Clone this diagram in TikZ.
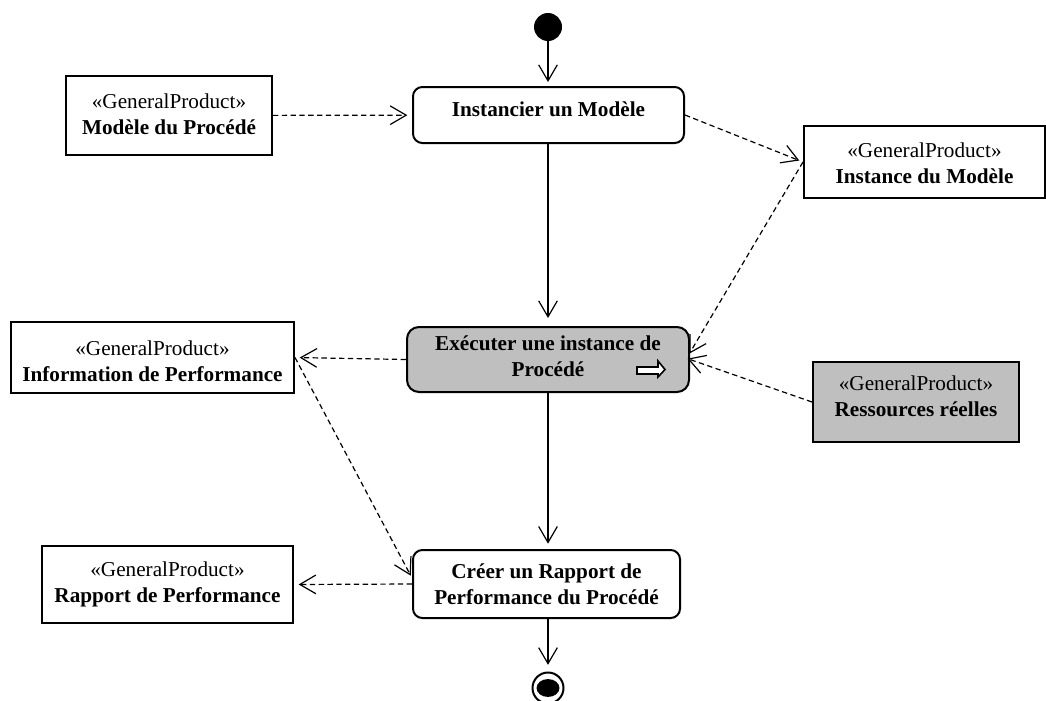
\documentclass[tikz,border=0pt]{standalone}
\usepackage{fontspec}
\setmainfont{Liberation Serif}
\usetikzlibrary{arrows.meta,calc,fit}

% one unit = one pixel of a 1046 x 700 canvas, y grows downwards
\tikzset{
  x=0.75pt, y=-0.75pt,
  conn/.style={line width=0.9pt,
    -{Straight Barb[length=12pt,width=14pt,line width=0.9pt]}},
  dep/.style={conn, dash pattern=on 4pt off 2.6pt},
  objbox/.style={draw, line width=1.5pt, inner sep=0pt},
  actbox/.style={draw, line width=1.5pt, rounded corners=7pt, inner sep=0pt},
  lbl/.style={align=center, inner sep=0pt,
    font=\fontsize{15.9}{19.5}\selectfont},
  graybox/.style={fill=black!25},
}

\begin{document}
\begin{tikzpicture}
\useasboundingbox (0,0) rectangle (1046,700);

% initial and final nodes
\node[circle, fill=black, minimum size=21pt, inner sep=0pt] (init) at (548,27) {};
\node[circle, draw, fill=white, line width=1.5pt, minimum size=23.25pt, inner sep=0pt] (final) at (548,688) {};
\fill (final.center) ellipse [x radius=8.6pt, y radius=6.7pt];

% activities
\node[actbox, fit={(413,87) (684,143)}] (inst) {};
\node[lbl, font=\fontsize{15.9}{19.5}\selectfont\bfseries] (inst-l) at (548.5,109) {Instancier un Modèle};

\node[actbox, graybox, rounded corners=9pt, fit={(407,327) (689,392)}] (exec) {};
\node[lbl] (exec-l) at (548,356) {\textbf{Exécuter une instance de}\\\textbf{Procédé}};
\draw[line width=1.2pt, fill=white, line join=miter]
  (637,367) -- (658,367) -- (658,361) -- (665,369.5) -- (658,377) -- (658,374) -- (637,374) -- cycle;

\node[actbox, fit={(413,550) (680,618)}] (creer) {};
\node[lbl] (creer-l) at (546.5,584) {\textbf{Créer un Rapport de}\\\textbf{Performance du Procédé}};

% products
\node[objbox, fit={(66,76) (272,155)}] (mod) {};
\node[lbl] (mod-l) at (169,114) {«GeneralProduct»\\\textbf{Modèle du Procédé}};

\node[objbox, fit={(804,126) (1045,198)}] (insto) {};
\node[lbl] (insto-l) at (924.5,163) {«GeneralProduct»\\\textbf{Instance du Modèle}};

\node[objbox, fit={(11,322) (294,393)}] (info) {};
\node[lbl] (info-l) at (152.5,361) {«GeneralProduct»\\\textbf{Information de Performance}};

\node[objbox, graybox, fit={(813,362) (1019,442)}] (res) {};
\node[lbl] (res-l) at (916,396) {«GeneralProduct»\\\textbf{Ressources réelles}};

\node[objbox, fit={(42,546) (293,623)}] (rap) {};
\node[lbl] (rap-l) at (167.5,584) {«GeneralProduct»\\\textbf{Rapport de Performance}};

% control flow, kept on the vertical axis x = 548
\draw[conn, shorten >=3pt] (init.south) -- (init.south |- inst.north);
\draw[conn, shorten >=6pt] (init.south |- inst.south) -- (init.south |- exec.north);
\draw[conn, shorten >=4pt] (init.south |- exec.south) -- (init.south |- creer.north);
\draw[conn, shorten >=5pt] (init.south |- creer.south) -- (final.north);

% object flow
\draw[dep, shorten >=3.5pt] (mod) -- (inst);
\draw[dep, shorten >=3pt] (inst.east) -- (insto.west);
\draw[dep, shorten >=-1pt] (insto.west) -- ($(exec.east)+(0,-7)$);
\draw[dep, shorten >=-2pt] (res.west) -- (exec.east);
\draw[dep, shorten >=3.5pt] (exec.west) -- (info.east);
\draw[dep, shorten >=2pt] (info.east) -- ($(creer.west)+(0,-6)$);
\draw[dep, shorten >=3.5pt] (creer.west) -- (rap.east);
\end{tikzpicture}
\end{document}
